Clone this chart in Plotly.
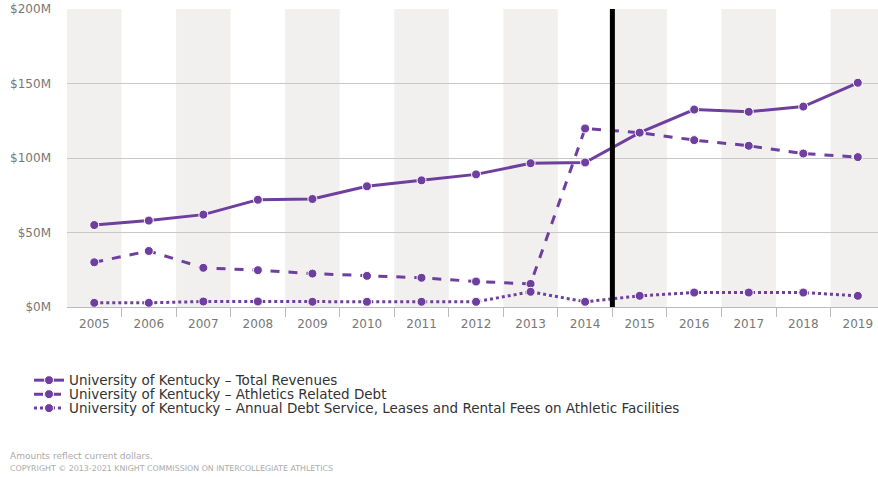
import plotly.graph_objects as go

years = [str(y) for y in range(2005, 2020)]
total_revenues = [55, 58, 62, 72, 72.5, 81, 85, 89, 96.5, 97, 117, 132.5, 131, 134.5, 150.5]
athletics_debt = [30, 37.6, 26.3, 24.7, 22.4, 20.9, 19.6, 17.1, 15.5, 119.8, 117, 112, 108.2, 103, 100.6]
annual_debt_service = [2.8, 2.8, 3.7, 3.7, 3.5, 3.5, 3.5, 3.5, 10.2, 3.5, 7.5, 9.7, 9.7, 9.7, 7.5]
y_ticks = [0, 50, 100, 150, 200]
y_tick_labels = ["$0M", "$50M", "$100M", "$150M", "$200M"]
names = [
    "University of Kentucky \u2013 Total Revenues",
    "University of Kentucky \u2013 Athletics Related Debt",
    "University of Kentucky \u2013 Annual Debt Service, Leases and Rental Fees on Athletic Facilities",
]
marker_year_split = 9.5  # between 2014 and 2015

purple = "#6f3f9f"
font = "DejaVu Sans"

W, H = 878, 477
L, T, B = 67, 9, 169.5
plot_h = H - T - B
plot_w = W - L

fig = go.Figure()
legend_ids = ["legend", "legend2", "legend3"]
for vals, name, dash, lg in zip([total_revenues, athletics_debt, annual_debt_service], names,
                                ["solid", "dash", "dot"], legend_ids):
    fig.add_trace(go.Scatter(
        x=list(range(len(years))), y=vals, name=name, mode="lines+markers",
        line=dict(color=purple, width=3, dash=dash),
        marker=dict(color=purple, size=9, line=dict(color="white", width=1)),
        legend=lg,
    ))

shapes = []
for i in range(len(years)):
    if i % 2 == 0:
        shapes.append(dict(type="rect", xref="x", yref="paper", x0=i - 0.5, x1=i + 0.5, y0=0, y1=1,
                           fillcolor="#f2f0ef", line=dict(width=0), layer="below"))
shapes.append(dict(type="line", xref="x", yref="paper", x0=marker_year_split, x1=marker_year_split, y0=0, y1=1,
                   line=dict(color="black", width=5)))
fig.update_layout(shapes=shapes)

def px_to_paper_x(px):
    return (px - L) / plot_w

def px_to_paper_y(py):
    return (H - B - py) / plot_h

legend_common = dict(
    xanchor="left", yanchor="middle",
    font=dict(family=font, size=13.5, color="#333333"), bgcolor="rgba(0,0,0,0)",
    itemwidth=30,
)
legend_rows = [381, 395, 409]
layout_legends = {}
for lg, row in zip(legend_ids, legend_rows):
    layout_legends[lg] = dict(x=px_to_paper_x(29), y=px_to_paper_y(row), **legend_common)

fig.update_layout(
    width=W, height=H,
    margin=dict(l=L, r=0, t=T, b=B, autoexpand=False),
    plot_bgcolor="white", paper_bgcolor="white",
    font=dict(family=font, color="#333333"),
    xaxis=dict(
        range=[-0.5, 14.37], tickmode="array", tickvals=list(range(len(years))), ticktext=years,
        tickangle=0,
        showgrid=False, showline=True, linecolor="#bbbbbb", linewidth=1,
        ticks="", tickfont=dict(family=font, size=12, color="#777777"), zeroline=False,
        ticklabelstandoff=6,
        minor=dict(tickmode="array", tickvals=[i + 0.5 for i in range(len(years))],
                   ticks="outside", ticklen=9, tickcolor="#bbbbbb", showgrid=False),
    ),
    yaxis=dict(
        range=[0, 200], tickvals=y_ticks, ticktext=y_tick_labels,
        showgrid=True, gridcolor="#c8c8c8", gridwidth=1, zeroline=False, showline=False,
        tickfont=dict(family=font, size=12, color="#777777"), ticklabelstandoff=15,
    ),
    showlegend=True,
    annotations=[
        dict(xref="paper", yref="paper", x=px_to_paper_x(8), y=px_to_paper_y(457), xanchor="left", yanchor="middle",
             text="Amounts reflect current dollars.", showarrow=False,
             font=dict(family=font, size=9, color="#aaaaaa")),
        dict(xref="paper", yref="paper", x=px_to_paper_x(8), y=px_to_paper_y(469), xanchor="left", yanchor="middle",
             text="COPYRIGHT \u00a9 2013-2021 KNIGHT COMMISSION ON INTERCOLLEGIATE ATHLETICS", showarrow=False,
             font=dict(family=font, size=7.9, color="#aaaaaa")),
    ],
    **layout_legends,
)

fig.write_html("out.html")
